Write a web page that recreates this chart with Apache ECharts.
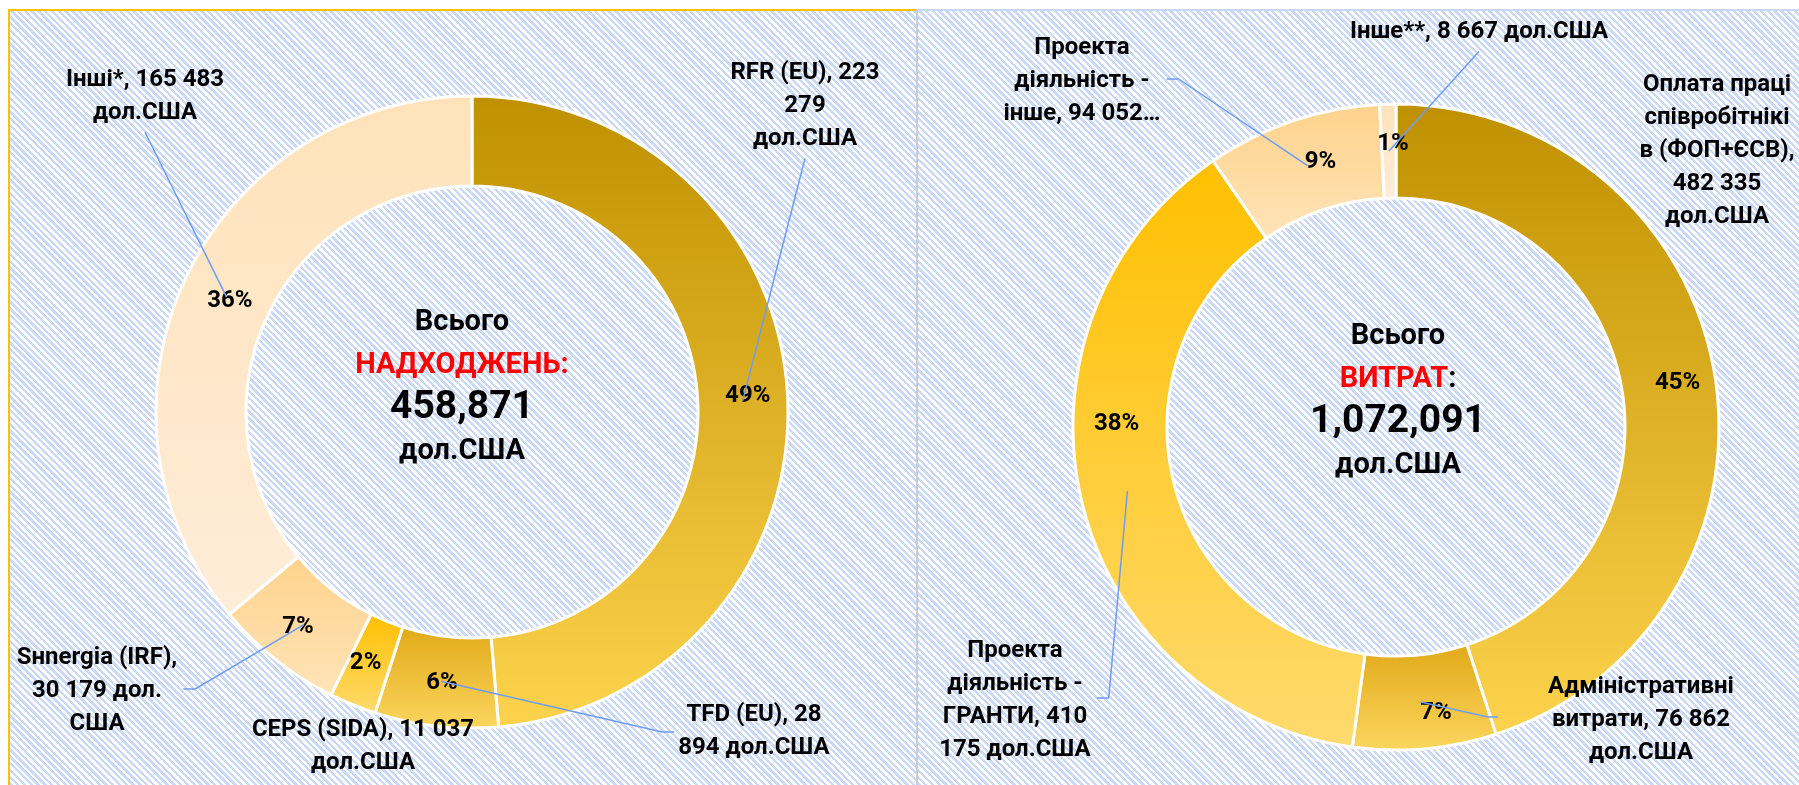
<!DOCTYPE html>
<html><head><meta charset="utf-8">
<script src="https://cdn.jsdelivr.net/npm/echarts@6/dist/echarts.min.js"></script>
<style>
html,body{margin:0;padding:0;background:#fff;width:1799px;height:785px;overflow:hidden}
.panel{position:absolute;box-sizing:border-box;background:repeating-linear-gradient(45deg,#ffffff 0px,#ffffff 2.4px,#cad9f7 2.4px,#cad9f7 4.8px)}
#p1{left:8px;top:9px;width:909px;height:800px;border-top:2px solid #ffc000;border-left:2px solid #ffc000;}
#p2{left:916px;top:9px;width:900px;height:800px;border-top:2px solid #c9d7f3;border-left:2px solid #c8ccd4;}
#chart{position:absolute;left:0;top:0;width:1799px;height:785px}
</style></head>
<body>
<div class="panel" id="p1"></div>
<div class="panel" id="p2"></div>
<div id="chart"></div>
<script>
// ---------- data ----------
const leftCategories = ['RFR (EU)', 'TFD (EU)', 'CEPS (SIDA)', 'Sнnergia (IRF)', 'Інші*'];
const leftValues = [223279, 28894, 11037, 30179, 165483];
const leftLabels = ['RFR (EU), 223\n279\nдол.США', 'TFD (EU), 28\n894 дол.США', 'CEPS (SIDA), 11 037\nдол.США', 'Sнnergia (IRF),\n30 179 дол.\nСША', 'Інші*, 165 483\nдол.США'];

const rightCategories = ['Оплата праці співробітників (ФОП+ЄСВ)', 'Адміністративні витрати', 'Проекта діяльність - ГРАНТИ', 'Проекта діяльність - інше', 'Інше**'];
const rightValues = [482335, 76862, 410175, 94052, 8667];
const rightLabels = ['Оплата праці\nспівробітнікі\nв (ФОП+ЄСВ),\n482 335\nдол.США', 'Адміністративні\nвитрати, 76 862\nдол.США', 'Проекта\nдіяльність -\nГРАНТИ, 410\n175 дол.США', 'Проекта\nдіяльність -\nінше, 94 052…', 'Інше**, 8 667 дол.США'];

const totalLabels = ['458,871', '1,072,091'];
const totalTitles = ['НАДХОДЖЕНЬ:', 'ВИТРАТ'];

// ---------- style / layout ----------
const FONT = 'Roboto';
const palette = [['#bf9000', '#fdd34d'], ['#e0a919', '#fcd65e'], ['#ffc000', '#ffda6e'], ['#fed28c', '#ffe4b8'], ['#ffe2b9', '#ffedd9']];
const leftLayout = {
  center: [472, 412], radius: [226, 316],
  labelPos: [[805, 106], [754, 731], [363, 746], [97, 691], [145, 96]],
  anchors: ['bottom', 'left', 'none', 'right', 'bottom'],
  pctOffsets: [[2, -4], [1, -1], [-3, -3], [-4, 0], [6, 5]]
};
const rightLayout = {
  center: [1396, 427], radius: [229, 323],
  labelPos: [[1717, 151], [1641, 720], [1015, 700], [1082, 81], [1479, 32]],
  anchors: ['none', 'leftfar', 'right', 'right', 'bottom'],
  pctOffsets: [[6, 0], [15, 8], [-8, -67], [14, -1], [4, -4]]
};

function gradient(i) {
  return new echarts.graphic.LinearGradient(0, 0, 0, 1, [
    { offset: 0, color: palette[i][0] }, { offset: 1, color: palette[i][1] }
  ]);
}

function buildSeries(names, values, labels, L) {
  const colored = names.map((n, i) => ({ name: n, value: values[i], itemStyle: { color: gradient(i) } }));
  const pctSeries = {
    type: 'pie', z: 2, silent: true, animation: false, avoidLabelOverlap: false,
    center: L.center, radius: L.radius, startAngle: 90, clockwise: true,
    itemStyle: { borderColor: '#ffffff', borderWidth: 3 },
    emphasis: { disabled: true },
    label: {
      show: true, position: 'inside', color: '#000', fontFamily: FONT, fontWeight: 'bold', fontSize: 24,
      textBorderWidth: 0,
      formatter: p => Math.round(p.percent) + '%'
    },
    labelLayout: p => ({ dx: L.pctOffsets[p.dataIndex][0], dy: L.pctOffsets[p.dataIndex][1] }),
    data: colored
  };
  const outer = names.map((n, i) => ({
    name: n, value: values[i],
    labelLine: { show: L.anchors[i] !== 'none' }
  }));
  const nameSeries = {
    type: 'pie', z: 3, silent: true, animation: false, avoidLabelOverlap: false,
    center: L.center, radius: L.radius, startAngle: 90, clockwise: true,
    itemStyle: { color: 'rgba(0,0,0,0)', borderWidth: 0 },
    emphasis: { disabled: true },
    label: {
      show: true, position: 'outside', color: '#000', fontFamily: FONT, fontWeight: 'bold', fontSize: 24,
      lineHeight: 33, align: 'center',
      formatter: p => labels[p.dataIndex]
    },
    labelLine: { show: true, lineStyle: { color: '#6f9cf2', width: 1.5 } },
    labelLayout: function (p) {
      const i = p.dataIndex;
      const pos = L.labelPos[i];
      const lr = p.labelRect || p.rect;
      const w = lr.width, h = lr.height;
      const res = { x: pos[0], y: pos[1], align: 'center', verticalAlign: 'middle' };
      const kind = L.anchors[i];
      if (kind !== 'none' && p.labelLinePoints && p.labelLinePoints.length) {
        const p0 = p.labelLinePoints[0];
        const vx = p0[0] - L.center[0], vy = p0[1] - L.center[1];
        const len = Math.hypot(vx, vy) || 1;
        const rm = (L.radius[0] + L.radius[1]) / 2;
        const pct = [L.center[0] + vx / len * rm, L.center[1] + vy / len * rm];
        let pts;
        if (kind === 'bottom') {
          const e = [pos[0], pos[1] + h / 2 + 3];
          pts = [pct, e, e];
        } else if (kind === 'left') {
          const lx = pos[0] - w / 2;
          pts = [pct, [lx - 16, pos[1] + 1], [lx - 4, pos[1] + 1]];
        } else if (kind === 'leftfar') {
          const lx = pos[0] - w / 2;
          pts = [pct, [lx - 60, pos[1] - 3], [lx - 50, pos[1] - 3]];
        } else {
          const rx = pos[0] + w / 2;
          pts = [pct, [rx + 18, pos[1] - 2], [rx + 6, pos[1] - 2]];
        }
        res.labelLinePoints = pts;
      }
      return res;
    },
    data: outer
  };
  return [pctSeries, nameSeries];
}

function centerText(x, y, total, title, redColon) {
  const t = redColon ? '{r|' + title + '}' : '{r|' + title + '}{a|:}';
  return {
    type: 'text', x: x, y: y, silent: true, z: 10,
    style: {
      text: '{a|Всього}\n' + t + '\n{n|' + total + '}\n{a|дол.США}',
      align: 'center', verticalAlign: 'middle',
      fontFamily: FONT, fontWeight: 'bold', fill: '#000',
      rich: {
        a: { fontFamily: FONT, fontWeight: 'bold', fontSize: 29, lineHeight: 43, fill: '#000000' },
        r: { fontFamily: FONT, fontWeight: 'bold', fontSize: 29, lineHeight: 43, fill: '#ff0000' },
        n: { fontFamily: FONT, fontWeight: 'bold', fontSize: 39, lineHeight: 43, fill: '#000000' }
      }
    }
  };
}

const chart = echarts.init(document.getElementById('chart'), null, { renderer: 'canvas' });
chart.setOption({
  backgroundColor: 'transparent',
  animation: false,
  series: [].concat(
    buildSeries(leftCategories, leftValues, leftLabels, leftLayout),
    buildSeries(rightCategories, rightValues, rightLabels, rightLayout)
  ),
  graphic: [
    centerText(462, 387, totalLabels[0], totalTitles[0], true),
    centerText(1398, 401, totalLabels[1], totalTitles[1], false)
  ]
});
</script>
</body></html>
